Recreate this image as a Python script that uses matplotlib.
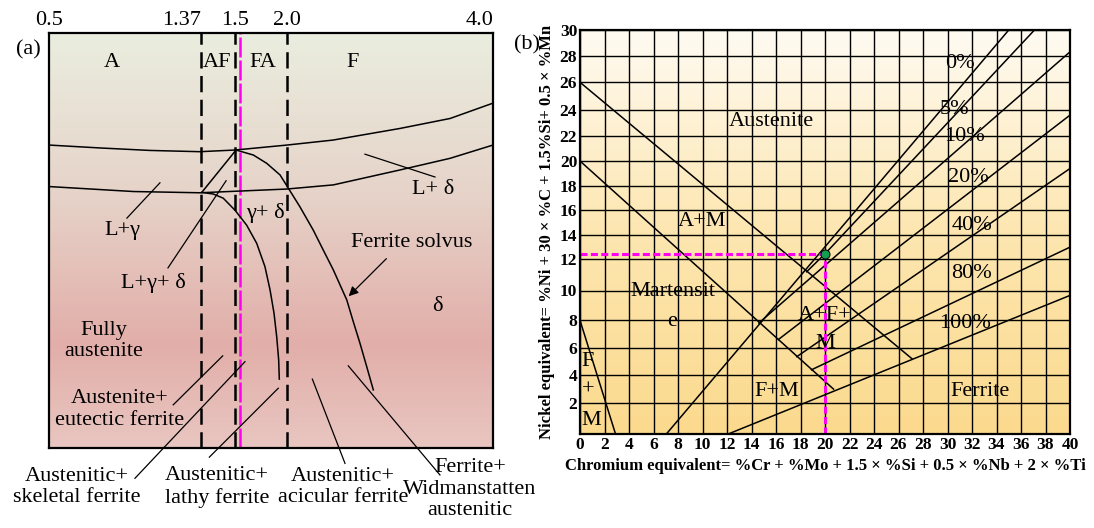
import numpy as np
import matplotlib
matplotlib.use("Agg")
import matplotlib.pyplot as plt
from matplotlib.colors import LinearSegmentedColormap

plt.rcParams['font.family'] = ['Liberation Serif', 'DejaVu Serif']

# ---------------- (a) solidification schematic ----------------
# x = Creq/Nieq ratio, y = relative temperature (0 bottom, 100 top)
ratio_ticks = [0.5, 1.37, 1.5, 2.0, 4.0]
ratio_tick_labels = ['0.5', '1.37', '1.5', '2.0', '4.0']
ratio_dashed = [1.37, 1.5, 2.0]
ratio_sample = 1.55

liq_upper_r = [0.5, 0.792, 1.078, 1.364, 1.5, 2.0, 2.447, 3.097, 3.583, 4.0]
liq_upper_t = [73.0, 72.3, 71.7, 71.4, 71.8, 73.0, 74.2, 77.0, 79.4, 83.1]

liq_lower_r = [0.5, 0.983, 1.364, 1.997, 2.45, 3.097, 3.583, 4.0]
liq_lower_t = [63.0, 61.8, 61.5, 62.4, 63.4, 67.0, 69.8, 73.0]

peak_r, peak_t = 1.51, 71.8

gamma_edge_r = [peak_r, 1.373]
gamma_edge_t = [peak_t, 61.6]

gd_solvus_r = [1.373, 1.417, 1.455, 1.5, 1.612, 1.709, 1.788, 1.837, 1.875, 1.901, 1.92, 1.926]
gd_solvus_t = [61.6, 61.2, 60.2, 57.3, 53.7, 49.3, 43.7, 38.1, 32.5, 26.8, 21.2, 16.6]

fer_solvus_r = [peak_r, 1.676, 1.805, 1.933, 2.003, 2.126, 2.255, 2.352, 2.45, 2.515,
                2.58, 2.644, 2.709, 2.774, 2.838]
fer_solvus_t = [71.8, 70.6, 68.6, 65.8, 63.0, 58.1, 52.5, 47.7, 42.9, 39.3,
                35.7, 30.4, 25.2, 19.6, 14.0]

mode_labels = ['A', 'AF', 'FA', 'F']
mode_label_r = [0.861, 1.431, 1.769, 2.641]

region_labels = ['L+ δ', 'L+γ', 'γ+ δ', 'Ferrite solvus', 'L+γ+ δ', 'δ',
                 'Fully\naustenite', 'Austenite+\neutectic ferrite']
region_r = [3.417, 0.918, 1.788, 3.214, 1.097, 3.456, 0.811, 0.906]
region_t = [62.2, 52.5, 56.6, 49.4, 39.7, 34.0, 25.8, 9.2]

pointer_r = [[1.135, 0.946], [1.466, 1.181], [2.757, 3.437], [1.211, 1.453]]
pointer_t = [[63.9, 55.4], [64.4, 43.4], [70.8, 65.3], [10.4, 22.2]]

below_labels = ['Austenitic+\nskeletal ferrite', 'Austenitic+\nlathy ferrite',
                'Austenitic+\nacicular ferrite', 'Ferrite+\nWidmanstatten\naustenitic']
below_r = [0.659, 1.43, 2.544, 3.777]
below_t = [-9.4, -9.4, -9.4, -9.9]
below_ptr_r = [[0.992, 1.596], [1.402, 1.916], [2.563, 2.246], [3.485, 2.595]]
below_ptr_t = [[-7.3, 20.8], [-2.2, 14.4], [-3.7, 16.6], [-6.5, 19.8]]

solvus_arrow_tail = (2.984, 46.1)
solvus_arrow_tip = (2.58, 36.1)

# ---------------- (b) Schaeffler diagram ----------------
cr_ticks = np.arange(0, 41, 2)
ni_ticks = np.arange(0, 31, 2)

phase_cr = [[0, 27.1], [0, 20.7], [0, 2.9]]
phase_ni = [[26, 5.2], [20, 3.0], [8, 0]]

pct_cr = [[7.05, 35.0], [18.5, 20.0, 37.1], [14.6, 40], [16.2, 40], [17.7, 40], [18.9, 40], [12.1, 40]]
pct_ni = [[0, 30], [11.2, 12.45, 30], [7.8, 28.3], [6.6, 23.6], [5.35, 19.4], [4.4, 13.0], [0, 9.67]]

pct_labels = ['0%', '5%', '10%', '20%', '40%', '80%', '100%']
pct_label_cr = [31.0, 30.6, 31.4, 31.7, 32.0, 32.0, 31.4]
pct_label_ni = [27.4, 24.0, 21.9, 18.7, 14.8, 11.1, 7.8]

phase_labels = ['Austenite', 'A+M', 'Martensit', 'e', 'A+F+', 'M', 'F+M', 'Ferrite']
phase_label_cr = [15.65, 9.93, 7.6, 7.5, 20.0, 20.0, 16.06, 32.65]
phase_label_ni = [23.1, 15.1, 9.9, 7.9, 8.35, 6.3, 2.8, 2.8]
fm_labels = ['F', '+', 'M']
fm_label_ni = [5.0, 2.9, 0.9]

weld_cr, weld_ni = 20.0, 12.45

# layout: uneven grid rows of the original drawing (pixel offsets of rows 0..30)
ROW_PX = np.array([434, 403, 375.3, 347.7, 320.3, 290.5, 259.3, 235, 210.3,
                   186, 161, 135.7, 110, 82.3, 55.7, 30])
ROW_POS = ROW_PX[0] - ROW_PX
RATIO_POS = [0, 152, 186, 238, 444]

W, H = 1094, 528
fig = plt.figure(figsize=(W / 100, H / 100), dpi=100)

rect_a = [49 / W, 1 - 448 / H, 444 / W, 415 / H]
rect_b = [580 / W, 1 - 434 / H, 490 / W, 404 / H]


def gradient_bg(rect, colors, stops):
    bg = fig.add_axes(rect, zorder=0)
    cmap = LinearSegmentedColormap.from_list('bg', list(zip(stops, colors)))
    bg.imshow(np.linspace(1, 0, 256).reshape(-1, 1), cmap=cmap, aspect='auto',
              extent=[0, 1, 0, 1], vmin=0, vmax=1)
    bg.set_axis_off()


gradient_bg(rect_a, ['#E9C6C1', '#E2AEA9', '#E6D2C8', '#EAEEDF'], [0, 0.25, 0.6, 1])
gradient_bg(rect_b, ['#FBDA8E', '#FDE6B0', '#FFFBF2'], [0, 0.5, 1])

# ---- panel (a)
ax = fig.add_axes(rect_a, zorder=1)
ax.set_facecolor('none')
ax.set_xscale('function', functions=(lambda r: np.interp(r, ratio_ticks, RATIO_POS),
                                     lambda p: np.interp(p, RATIO_POS, ratio_ticks)))
ax.set_xlim(0.5, 4.0)
ax.set_ylim(0, 100)

for r in ratio_dashed:
    ax.axvline(r, color='k', lw=1.8, dashes=(6.5, 3))
ax.axvline(ratio_sample, color='#FF00F0', lw=1.8, dashes=(8, 1.2))

curve_kw = dict(color='k', lw=1.1)
ax.plot(liq_upper_r, liq_upper_t, **curve_kw)
ax.plot(liq_lower_r, liq_lower_t, **curve_kw)
ax.plot(gamma_edge_r, gamma_edge_t, **curve_kw)
ax.plot(gd_solvus_r, gd_solvus_t, **curve_kw)
ax.plot(fer_solvus_r, fer_solvus_t, **curve_kw)

for pr, pt in zip(pointer_r + below_ptr_r, pointer_t + below_ptr_t):
    ax.plot(pr, pt, color='k', lw=0.9, clip_on=False)

ax.annotate('', xy=solvus_arrow_tip, xytext=solvus_arrow_tail,
            arrowprops=dict(arrowstyle='-|>', color='k', lw=0.9, mutation_scale=14))

for lab, r in zip(mode_labels, mode_label_r):
    ax.text(r, 92.8, lab, ha='center', va='center', fontsize=16)
for lab, r, t in zip(region_labels, region_r, region_t):
    ax.text(r, t, lab, ha='center', va='center', fontsize=16)
for lab, r, t in zip(below_labels, below_r, below_t):
    ax.text(r, t, lab, ha='center', va='center', fontsize=16)

ax.set_xticks(ratio_ticks)
ax.set_xticklabels(ratio_tick_labels)
ax.tick_params(axis='x', top=True, bottom=False, labeltop=True, labelbottom=False,
               length=0, pad=2, labelsize=16)
tl = ax.get_xticklabels()
tl[1].set_ha('right')
tl[4].set_ha('right')
ax.set_yticks([])
for s in ax.spines.values():
    s.set_linewidth(1.6)

# ---- panel (b)
bx = fig.add_axes(rect_b, zorder=1)
bx.set_facecolor('none')
bx.set_yscale('function', functions=(lambda v: np.interp(v, ni_ticks, ROW_POS),
                                     lambda u: np.interp(u, ROW_POS, ni_ticks)))
bx.set_xlim(0, 40)
bx.set_ylim(0, 30)
bx.set_xticks(cr_ticks)
bx.set_yticks(ni_ticks)
bx.set_yticklabels([''] + [str(v) for v in ni_ticks[1:]])
bx.minorticks_off()
bx.grid(True, color='k', lw=1.0)
bx.set_axisbelow(True)
bx.tick_params(length=0, pad=2, labelsize=12.5)
for t in bx.get_xticklabels() + bx.get_yticklabels():
    t.set_fontweight('bold')
for s in bx.spines.values():
    s.set_linewidth(1.6)

for c, n in zip(phase_cr + pct_cr, phase_ni + pct_ni):
    bx.plot(c, n, color='k', lw=1.1)

bx.plot([0, weld_cr], [weld_ni, weld_ni], color='#FF00F0', lw=2.2, dashes=(2.3, 1.1))
bx.plot([weld_cr, weld_cr], [0, weld_ni], color='#FF00F0', lw=2.2, dashes=(2.3, 1.1))
bx.plot(weld_cr, weld_ni, 'o', ms=6.5, mfc='#10A050', mec='k', mew=0.7, zorder=5)

for lab, c, n in zip(pct_labels, pct_label_cr, pct_label_ni):
    bx.text(c, n, lab, ha='center', va='center', fontsize=16)
for lab, c, n in zip(phase_labels, phase_label_cr, phase_label_ni):
    bx.text(c, n, lab, ha='center', va='center', fontsize=16)
for lab, n in zip(fm_labels, fm_label_ni):
    bx.text(0.15, n, lab, ha='left', va='center', fontsize=16)

bx.set_ylabel('Nickel equivalent= %Ni + 30 × %C + 1.5%Si+ 0.5 × %Mn',
              fontsize=12, fontweight='bold', labelpad=3)
bx.set_xlabel('Chromium equivalent= %Cr + %Mo + 1.5 × %Si + 0.5 × %Nb + 2 × %Ti',
              fontsize=12, fontweight='bold', labelpad=4)

fig.text(28 / W, 1 - 50 / H, '(a)', ha='center', va='center', fontsize=16)
fig.text(527 / W, 1 - 45 / H, '(b)', ha='center', va='center', fontsize=16)

fig.savefig('out.png', dpi=100)
